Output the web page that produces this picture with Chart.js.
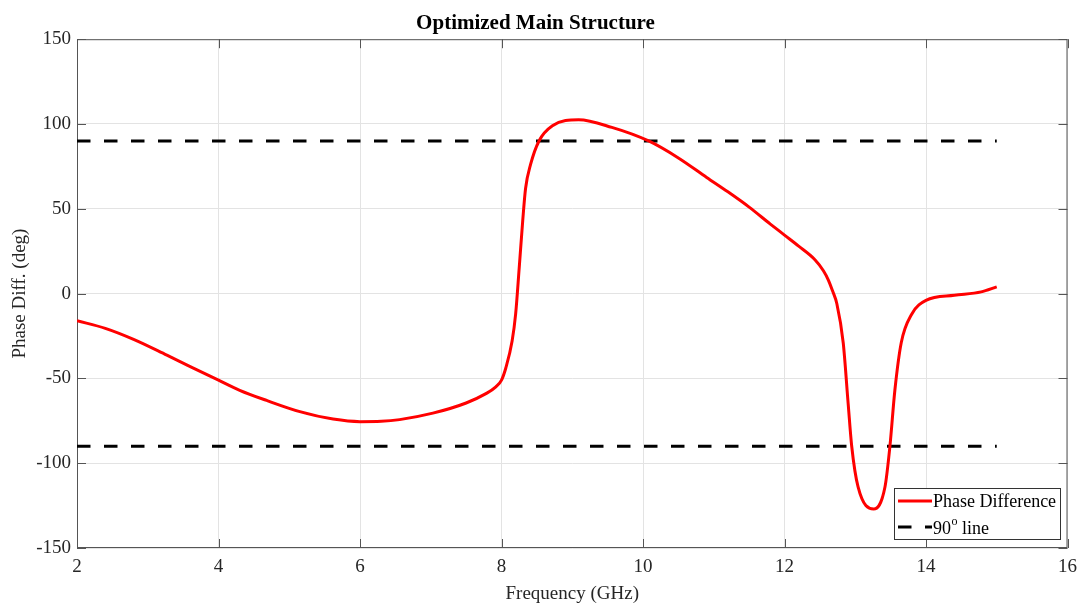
<!DOCTYPE html>
<html>
<head>
<meta charset="utf-8">
<script src="https://cdn.jsdelivr.net/npm/chart.js@4"></script>
<style>
  html, body { margin: 0; padding: 0; background: #fff; }
  #wrap { width: 1085px; height: 605px; }
</style>
</head>
<body>
<div id="wrap"><canvas id="phaseChart" width="1085" height="605"></canvas></div>
<script>
// Datos
var freq = [2.0, 2.4, 2.8, 3.27, 3.6, 4.0, 4.3, 4.68, 5.15, 5.62, 6.0, 6.3, 6.56, 7.03, 7.5, 7.78, 7.92, 8.0,
            8.06, 8.15, 8.2, 8.25, 8.3, 8.34, 8.41, 8.53, 8.72, 9.09, 9.56, 10.08, 10.5,
            10.9, 11.2, 11.5, 11.8, 12.0, 12.2, 12.43, 12.55, 12.62, 12.68, 12.74, 12.83, 12.9, 12.95,
            13.04, 13.26, 13.42, 13.49, 13.56, 13.65, 13.8, 14.0, 14.4, 14.78, 15.0];
var phaseDiff = [-16, -20.5, -27, -36.3, -43, -51, -57, -63, -69.6, -74, -75.5, -75.3, -74.3, -70.5, -64.5, -59, -55, -51,
                 -44, -28, -12, 15, 43, 62, 76, 90, 99, 102.5, 98, 90, 80,
                 68.5, 60, 51, 41, 34.5, 28, 20, 13.5, 8, 1.5, -6, -29, -65, -90,
                 -114, -127, -114, -90, -57, -29, -12, -4, -1, 1, 4];
var refFreq = [2, 15];
var refUpper = [90, 90];
var refLower = [-90, -90];
var xTicks = [2, 4, 6, 8, 10, 12, 14, 16];
var yTicks = [-150, -100, -50, 0, 50, 100, 150];

Chart.defaults.font.family = '"Liberation Serif", "Times New Roman", serif';
Chart.defaults.color = '#262626';

function pts(xs, ys) {
    return xs.map(function (x, i) { return { x: x, y: ys[i] }; });
}

// Marco, marcas hacia dentro y leyenda estilo MATLAB
var matlabBox = {
    id: 'matlabBox',
    beforeDatasetsDraw: function (chart) {
        var c = chart.ctx, a = chart.chartArea;
        var sx = chart.scales.x, sy = chart.scales.y;
        c.save();
        c.strokeStyle = '#555';
        c.lineWidth = 1;
        c.strokeRect(a.left + 0.5, a.top + 0.5, a.right - a.left - 1, a.bottom - a.top - 1);
        c.beginPath();
        xTicks.forEach(function (v) {
            var px = Math.round(sx.getPixelForValue(v)) + 0.5;
            c.moveTo(px, a.bottom); c.lineTo(px, a.bottom - 9);
            c.moveTo(px, a.top); c.lineTo(px, a.top + 9);
        });
        yTicks.forEach(function (v) {
            var py = Math.round(sy.getPixelForValue(v)) + 0.5;
            c.moveTo(a.left, py); c.lineTo(a.left + 9, py);
            c.moveTo(a.right, py); c.lineTo(a.right - 9, py);
        });
        c.stroke();
        c.restore();
    },
    afterDatasetsDraw: function (chart) {
        var c = chart.ctx;
        var bx = 894, by = 488, bw = 166, bh = 51;
        c.save();
        c.fillStyle = '#fff';
        c.fillRect(bx, by, bw, bh);
        c.strokeStyle = '#333';
        c.lineWidth = 1;
        c.strokeRect(bx + 0.5, by + 0.5, bw, bh);

        c.lineWidth = 3;
        c.strokeStyle = '#ff0000';
        c.beginPath(); c.moveTo(898, 501); c.lineTo(932, 501); c.stroke();

        c.strokeStyle = '#000';
        c.setLineDash([13.5, 13.5]);
        c.beginPath(); c.moveTo(898, 527); c.lineTo(932, 527); c.stroke();
        c.setLineDash([]);

        c.fillStyle = '#000';
        c.textBaseline = 'middle';
        c.textAlign = 'left';
        c.font = '18px "Liberation Serif", serif';
        c.fillText('Phase Difference', 933, 502);
        var x = 933;
        c.fillText('90', x, 529);
        x += c.measureText('90').width;
        c.font = '12px "Liberation Serif", serif';
        c.fillText('o', x + 0.5, 522);
        x += c.measureText('o').width + 0.5;
        c.font = '18px "Liberation Serif", serif';
        c.fillText(' line', x, 529);
        c.restore();
    }
};

var ctx = document.getElementById('phaseChart').getContext('2d');
var phaseChart = new Chart(ctx, {
    type: 'line',
    data: {
        datasets: [{
            label: 'Phase Difference',
            data: pts(freq, phaseDiff),
            borderColor: '#ff0000',
            borderWidth: 3,
            pointRadius: 0,
            fill: false,
            cubicInterpolationMode: 'monotone'
        }, {
            label: '90o line',
            data: pts(refFreq, refUpper),
            borderColor: '#000',
            borderWidth: 3,
            borderDash: [13.5, 13.5],
            pointRadius: 0,
            fill: false
        }, {
            label: '-90 line',
            data: pts(refFreq, refLower),
            borderColor: '#000',
            borderWidth: 3,
            borderDash: [13.5, 13.5],
            pointRadius: 0,
            fill: false
        }]
    },
    options: {
        responsive: false,
        animation: false,
        devicePixelRatio: 1,
        layout: { padding: { left: 0, right: 14, top: 0, bottom: 0 } },
        plugins: {
            legend: { display: false },
            tooltip: { enabled: false },
            title: {
                display: true,
                text: 'Optimized Main Structure',
                color: '#000',
                font: { size: 21, weight: 'bold' },
                padding: { top: 11, bottom: 3 }
            }
        },
        scales: {
            x: {
                type: 'linear',
                min: 2,
                max: 16,
                afterBuildTicks: function (s) { s.ticks = xTicks.map(function (v) { return { value: v }; }); },
                afterFit: function (s) { s.height = 57; },
                ticks: { font: { size: 19 }, padding: 8, maxRotation: 0 },
                grid: { color: '#e3e3e3', drawTicks: false },
                border: { display: false },
                title: {
                    display: true,
                    text: 'Frequency (GHz)',
                    font: { size: 19 },
                    padding: { top: 1, bottom: 0 }
                }
            },
            y: {
                type: 'linear',
                min: -150,
                max: 150,
                afterBuildTicks: function (s) { s.ticks = yTicks.map(function (v) { return { value: v }; }); },
                afterFit: function (s) { s.width = 77; },
                ticks: { font: { size: 19 }, padding: 6 },
                grid: { color: '#e3e3e3', drawTicks: false },
                border: { display: false },
                title: {
                    display: true,
                    text: 'Phase Diff. (deg)',
                    font: { size: 19 },
                    padding: { top: 9, bottom: 0 }
                }
            }
        }
    },
    plugins: [matlabBox]
});
</script>
</body>
</html>
